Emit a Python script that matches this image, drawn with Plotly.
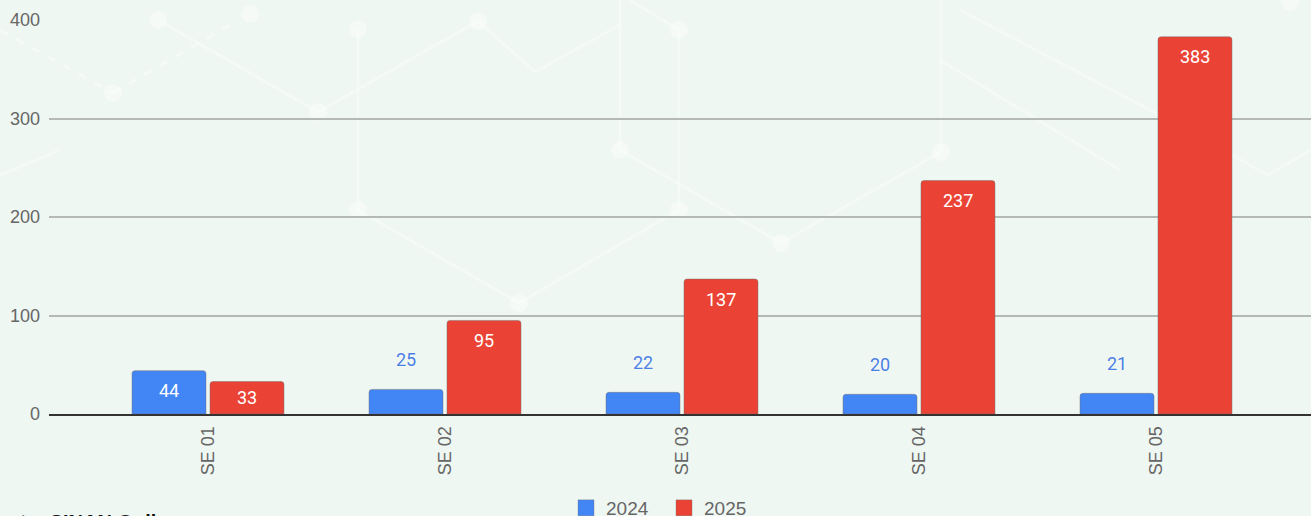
import plotly.graph_objects as go

# ---- data ----
categories = ["SE 01", "SE 02", "SE 03", "SE 04", "SE 05"]
series_names = ["2024", "2025"]
values_2024 = [44, 25, 22, 20, 21]
values_2025 = [33, 95, 137, 237, 383]
y_ticks = [0, 100, 200, 300, 400]
source_text = "Fonte: SINAN Online"

BLUE = "#4285F4"
RED = "#EA4335"
BG = "#EFF7F2"

# layout geometry (pixels)
W, H = 1311, 516
ML, MR, MT, MB = 49, 0, 20, 102
PW, PH = W - ML - MR, H - MT - MB
YMAX = 400

fig = go.Figure()
for name, vals, col in [(series_names[0], values_2024, BLUE),
                        (series_names[1], values_2025, RED)]:
    fig.add_trace(go.Bar(
        x=categories, y=vals, name=name, showlegend=False,
        marker=dict(color=col, line=dict(color="rgba(110,110,110,0.45)", width=1)),
        hoverinfo="x+y+name",
    ))
# legend entries with larger square swatches
for name, col in [(series_names[0], BLUE), (series_names[1], RED)]:
    fig.add_trace(go.Scatter(
        x=[None], y=[None], mode="markers", name=name,
        marker=dict(symbol="square", size=18, color=col,
                    line=dict(color="rgba(110,110,110,0.35)", width=1)),
    ))

# value labels
annotations = []
px_per_unit = PH / YMAX
for vals, shift_x in [(values_2024, -39), (values_2025, 39)]:
    for c, v in zip(categories, vals):
        h = v * px_per_unit
        if h > 30:
            annotations.append(dict(
                x=c, y=v, xref="x", yref="y", xshift=shift_x,
                yshift=-min(20, h / 2), text=str(v), showarrow=False,
                yanchor="middle", xanchor="center",
                font=dict(family="Roboto", size=18, color="white")))
        else:
            annotations.append(dict(
                x=c, y=v, xref="x", yref="y", xshift=shift_x,
                yshift=30, text=str(v), showarrow=False,
                yanchor="middle", xanchor="center",
                font=dict(family="Roboto", size=18, color="#4A7FE3",
                          shadow="0px 0px 2px white")))

# source text (partly cut off at bottom, as in reference)
annotations.append(dict(
    x=(-19 - ML) / PW, y=(MT + PH - 509) / PH, xref="paper", yref="paper",
    xanchor="left", yanchor="top", showarrow=False, text=source_text,
    font=dict(family="Arial", size=20, color="#111111", weight="bold")))

# faint decorative network in the background (pixel coords -> paper)
def P(px, py):
    return (px - ML) / PW, (MT + PH - py) / PH

decor_lines = [
    [(0, 30), (113, 93)], [(113, 93), (235, 22)], [(158, 20), (318, 112)],
    [(0, 175), (60, 150)],
    [(318, 112), (478, 21)], [(358, 29), (358, 210)], [(358, 210), (519, 303)],
    [(519, 303), (679, 210)], [(679, 210), (679, 30)], [(478, 21), (535, 72)],
    [(535, 72), (620, 25)], [(620, 0), (620, 150)], [(620, 150), (781, 243)],
    [(781, 243), (941, 152)], [(941, 152), (941, 0)], [(630, 0), (679, 30)],
    [(960, 10), (1150, 110)], [(1150, 110), (1268, 175)], [(1268, 175), (1311, 150)],
    [(940, 60), (1120, 170)],
]
decor_dash = [[(0, 30), (113, 93)], [(113, 93), (235, 22)]]
decor_nodes = [(158, 20), (113, 93), (250, 14), (318, 112), (358, 29), (478, 21),
               (358, 210), (519, 303), (620, 150), (679, 30), (679, 210),
               (781, 243), (941, 152), (1290, 2)]
shapes = []
for (a, b) in decor_lines:
    x0, y0 = P(*a)
    x1, y1 = P(*b)
    dashed = [a, b] in decor_dash
    shapes.append(dict(type="line", xref="paper", yref="paper", x0=x0, y0=y0,
                       x1=x1, y1=y1, layer="below",
                       line=dict(color="rgba(255,255,255,0.35)", width=3,
                                 dash="dash" if dashed else "solid")))
for (cx, cy) in decor_nodes:
    r = 9
    x0, y0 = P(cx - r, cy + r)
    x1, y1 = P(cx + r, cy - r)
    shapes.append(dict(type="circle", xref="paper", yref="paper", x0=x0, y0=y0,
                       x1=x1, y1=y1, layer="below",
                       fillcolor="rgba(255,255,255,0.4)", line=dict(width=0)))

fig.update_layout(
    width=W, height=H, autosize=False,
    margin=dict(l=ML, r=MR, t=MT, b=MB, pad=0, autoexpand=False),
    paper_bgcolor=BG, plot_bgcolor=BG,
    barmode="group", bargap=0.342, bargroupgap=0.051, barcornerradius=3,
    font=dict(family="Arial", size=18, color="#666666"),
    showlegend=True,
    legend=dict(orientation="h", x=566 / W, xanchor="left", xref="container",
                y=(H - 508) / H, yanchor="middle", yref="container",
                font=dict(family="Arial", size=19, color="#666666"),
                itemwidth=30, entrywidth=53, entrywidthmode="pixels",
                bgcolor="rgba(0,0,0,0)", tracegroupgap=0),
    annotations=annotations,
    shapes=shapes,
    xaxis=dict(type="category", range=[(ML - 208) / 237, (W - 208) / 237],
               showgrid=False, showline=True, linecolor="#333333", linewidth=2,
               tickangle=-90, ticks="", ticklabelstandoff=3,
               tickfont=dict(family="Arial", size=18, color="#666666"),
               zeroline=False, fixedrange=True, automargin=False),
    yaxis=dict(range=[0, YMAX], tickvals=y_ticks, showgrid=True,
               gridcolor="#B4B9B6", gridwidth=1.6, zeroline=False,
               showline=False, ticks="", ticklabelstandoff=8,
               tickfont=dict(family="Arial", size=18, color="#666666"),
               fixedrange=True, automargin=False),
)

fig.write_html(
    "out.html",
    config={"displayModeBar": False},
    post_script="document.body.style.margin='0';document.body.style.overflow='hidden';document.body.style.background='" + BG + "';",
)
